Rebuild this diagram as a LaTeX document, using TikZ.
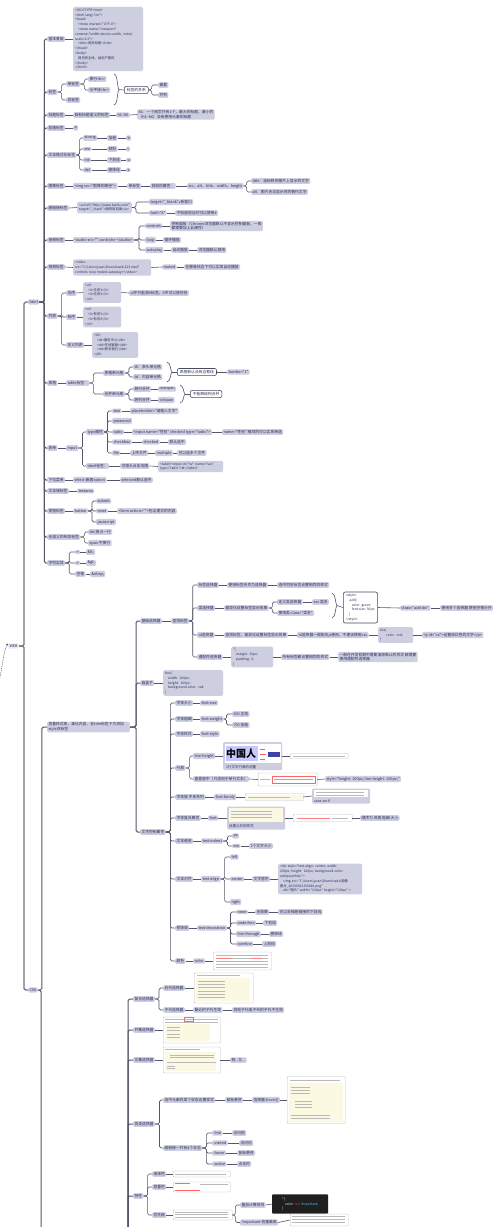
\documentclass[tikz,border=0pt]{standalone}
\usepackage{fontspec}
\newfontfamily\mapfont{Noto Sans CJK SC}
\usepackage{xcolor}
\usepackage{tikz}
\usetikzlibrary{arrows.meta}
\definecolor{tagfill}{HTML}{CDCEE0}
\definecolor{tagtext}{HTML}{2A2D5C}
\definecolor{lnc}{HTML}{55586A}
\definecolor{shotyel}{HTML}{FCF9E3}
\newcommand{\codeind}{\hspace*{3pt}}
\newcommand{\fakelines}[5]{%
  \foreach \k in {1,...,#4}{\draw[fk] (#1,{#3+(\k-1)*#5}) -- (#2,{#3+(\k-1)*#5});}}
\newcommand{\sumbrace}[3]{%
  \draw[ln,rounded corners=0pt] (#1,#2) .. controls (#1+4,#2+1) and (#1+3,{(#2+#3)/2-2}) .. (#1+5,{(#2+#3)/2})
    .. controls (#1+3,{(#2+#3)/2+2}) and (#1+4,#3-1) .. (#1,#3);}

\begin{document}
\begin{tikzpicture}[x=1pt,y=-1pt,>=Latex,
  t/.style={fill=tagfill,text=tagtext,rounded corners=1.2pt,inner xsep=1.3pt,inner ysep=1.1pt,
    anchor=west,font={\mapfont\fontsize{3.8}{4.4}\selectfont}},
  cb/.style={t,align=left,font={\mapfont\fontsize{3.3}{4.8}\selectfont},inner xsep=2pt,inner ysep=1.6pt,rounded corners=1.5pt},
  wb/.style={t,fill=white,draw=lnc!85!black,line width=0.6pt,rounded corners=2pt,inner xsep=2.5pt,inner ysep=1.8pt},
  ln/.style={draw=lnc,line width=0.6pt,rounded corners=1.6pt},
  trunk/.style={ln,line width=1pt},
  roottrunk/.style={ln,draw=gray!75!lnc,line width=1.3pt},
  shot/.style={draw=gray!50,line width=0.4pt,fill=white,rounded corners=0.8pt,anchor=west,inner sep=0pt},
  captxt/.style={anchor=west,inner sep=0pt,text=tagtext,font={\mapfont\fontsize{3.5}{4}\selectfont}},
  fk/.style={draw=gray!55,line width=0.45pt},
  rel/.style={draw=lnc,dashed,dash pattern=on 1.2pt off 1pt,line width=0.5pt,-{Latex[length=2.2pt,width=2pt]}}]
\fill[white] (0,0) rectangle (500,1227);
\useasboundingbox (0,0) rectangle (500,1227);

% root
\node[t,fill=tagfill!45] (web) at (8,646) {WEB};
\node[t] (html) at (28,302) {html};
\node[t] (css) at (28,990) {CSS};
\coordinate (relin) at (-2,684);
\draw[rel] (relin) .. controls (3,668) and (3,652) .. (web.north west);
\draw[roottrunk] (web.east) -- ++(5,0) |- (html.west);
\draw[roottrunk] (web.east) -- ++(5,0) |- (css.west);

% html
\node[t] (gujia) at (47,39) {基本骨架};
\node[cb,text width=66pt] (gujiacode) at (73,39) {<!DOCTYPE html>\\<html lang="en">\\<head>\\\codeind<meta charset="UTF-8">\\\codeind<meta name="viewport"\\content="width=device-width, initial-\\scale=1.0">\\\codeind<title>网页标题</title>\\</head>\\<body>\\\codeind 网页的主体，给用户看的\\</body>\\</html>};
\node[t] (biaoqian) at (47,92) {标签};
\node[t] (danbq) at (66,84) {单标签};
\node[t] (shuangbq) at (66,100) {双标签};
\node[t] (huanhang) at (88,79) {换行<br>};
\node[t] (spx) at (88,90) {水平线<hr>};
\sumbrace{114}{74}{105}
\coordinate (bqtip) at (119,89.5);
\node[wb] (guanxi) at (124,90) {标签的关系};
\node[t] (qiantao) at (158,85) {嵌套};
\node[t] (binglie) at (158,95) {并列};
\node[t] (biaoti) at (47,115) {标题标签};
\node[t] (btyy) at (73,115) {具有标题语义的标签};
\node[t] (h1h6) at (116,115) {h1\textasciitilde h6};
\node[t,align=left] (h1note) at (137,114.5) {h1：一个网页只有1个，最大的标题，最小的\\（h1\textasciitilde h6）没有使用元素的标题};
\node[t] (duanluo) at (47,128) {段落标签};
\node[t] (ptag) at (73,128) {p};
\node[t] (wbgs) at (47,155) {文本格式化标签};
\node[t] (strong) at (83,138) {strong};
\node[t] (jiacu) at (107,138) {加粗};
\node[t] (btag) at (126,138) {b};
\node[t] (emtag) at (83,149) {em};
\node[t] (qingxie) at (107,149) {倾斜};
\node[t] (itag) at (126,149) {i};
\node[t] (instag) at (83,160) {ins};
\node[t] (xiahx) at (107,160) {下划线};
\node[t] (utag) at (126,160) {u};
\node[t] (deltag) at (83,170) {del};
\node[t] (shancx) at (107,170) {删除线};
\node[t] (stag) at (126,170) {s};
\node[t] (tuxiang) at (47,186) {图像标签};
\node[t] (imgtag) at (73,186) {<img src="图像的路径">};
\node[t] (dbq) at (127,186) {单标签};
\node[t] (qtsx) at (150,186) {其他的属性：};
\node[t] (srcall) at (187,186) {src、alt、title、width、height};
\node[t] (titleat) at (251,181) {title：鼠标移到图片上显示的文字};
\node[t] (altat) at (251,192) {alt：图片无法显示时的替代文字};
\node[t] (chaolj) at (47,208) {超链接标签};
\node[cb] (alink) at (77,207.5) {<a href="http://www.baidu.com"\\target="\_blank">跳转到百度</a>};
\node[t] (target) at (149,202) {target="\_blank"};
\node[t] (xinck) at (179,202) {新窗口};
\node[t] (hrefj) at (149,213) {href="\#"};
\node[t] (bzdz) at (175,213) {不知道地址时可以使用\#};
\node[t] (yinpin) at (47,240) {音频标签};
\node[t] (audio) at (73,240) {<audio src="" controls> </audio>};
\node[t] (controls) at (145,226) {controls};
\node[t,align=left] (kzmb) at (170,226) {控制面板（Chrome浏览器默认不显示控制面板，一般\\都需要加上此属性）};
\node[t] (loop) at (145,240) {loop};
\node[t] (xhbf) at (163,240) {循环播放};
\node[t] (autoplay) at (145,250) {autoplay};
\node[t] (zdbf) at (171,250) {自动播放};
\node[t] (llqjy) at (197,250) {浏览器默认禁用};
\node[t] (shipin) at (47,267) {视频标签};
\node[cb,text width=74pt] (video) at (73,267.5) {<video\\src="C:\textbackslash Users\textbackslash yuan\textbackslash Downloads\textbackslash 123.mp4"\\controls loop muted autoplay></video>};
\node[t] (muted) at (162,267) {muted};
\node[t] (jyzd) at (184,267) {在静音状态下可以实现自动播放};
\node[t] (liebiao) at (47,316) {列表};
\node[t] (wuxu) at (66,293) {无序};
\node[t] (youxu) at (66,317) {有序};
\node[t] (dingyi) at (66,345) {定义列表};
\node[cb,text width=34pt] (ulcode) at (83,292.5) {<ul>\\\codeind<li>无序1</li>\\\codeind<li>无序2</li>\\</ul>};
\node[t] (ulnote) at (129,293) {ul中只能放li标签，li中可以放任何};
\node[cb,text width=34pt] (olcode) at (83,317) {<ol>\\\codeind<li>有序1</li>\\\codeind<li>有序2</li>\\</ol>};
\node[cb,text width=42pt] (dlcode) at (92,345) {<dl>\\\codeind<dt>服务中心</dt>\\\codeind<dd>在线客服</dd>\\\codeind<dd>联系我们</dd>\\</dl>};
\node[t] (biaoge) at (47,383) {表格};
\node[t] (tabletag) at (66,383) {table标签：};
\node[t] (dyg) at (103,373) {表格单元格};
\node[t] (thtag) at (133,367) {th：表头单元格};
\node[t] (tdtag) at (133,377) {td：内容单元格};
\node[t] (hebing) at (103,394) {合并单元格};
\node[t] (kuahang) at (133,389) {跨行合并};
\node[t] (rowspan) at (158,389) {rowspan};
\node[t] (kualie) at (133,400) {跨列合并};
\node[t] (colspan) at (158,400) {colspan};
\sumbrace{167}{362}{382}
\coordinate (bgtip) at (172,372);
\node[wb] (mrwbk) at (177,372) {表格默认没有边框线};
\node[t] (border) at (227,372) {border="1"};
\sumbrace{180}{385}{403}
\coordinate (hbtip) at (185,394);
\node[wb] (bnkjg) at (190,394) {不能跨结构合并};
\node[t] (biaodan) at (47,448) {表单};
\node[t] (inputtag) at (66,448) {input};
\node[t] (typesx) at (86,432) {type属性};
\node[t] (tytext) at (112,411) {text};
\node[t] (placeh) at (130,411) {placeholder="请输入文字"};
\node[t] (typwd) at (112,421) {password};
\node[t] (tyradio) at (112,432) {radio};
\node[t] (inradio) at (132,432) {<input name="性别" checked type="radio">};
\node[t] (danxuan) at (222,432) {name="性别" 相同的可以实现单选};
\node[t] (tycheck) at (112,442) {checkbox};
\node[t] (checked) at (142,442) {checked};
\node[t] (mrxz) at (168,442) {默认选中};
\node[t] (tyfile) at (112,453) {file};
\node[t] (scwj) at (130,453) {上传文件};
\node[t] (multiple) at (155,453) {multiple};
\node[t] (kxdg) at (177,453) {可以选多个文件};
\node[t] (labeltag) at (86,466) {label标签：};
\node[t] (zdfw) at (120,466) {可增大点击范围};
\node[cb,text width=61pt] (labelcode) at (158,466.5) {<label><input id="nv" name="sex"\\type="radio">女</label>};
\node[t] (xlcd) at (47,480) {下拉菜单};
\node[t] (selecttag) at (73,480) {select 嵌套option};
\node[t] (selected) at (120,480) {selected默认选中};
\node[t] (wbyu) at (47,491) {文本域标签};
\node[t] (textarea) at (77,491) {textarea};
\node[t] (anniu) at (47,511) {按钮标签};
\node[t] (buttontag) at (73,511) {button};
\node[t] (submit) at (96,501) {submit};
\node[t] (reset) at (96,511) {reset};
\node[t] (formtag) at (117,511) {<form action="">包含提交的内容};
\node[t] (jstag) at (96,522) {javascript};
\node[t] (buju) at (47,537) {无语义的布局标签};
\node[t] (divtag) at (88,532) {div 独占一行};
\node[t] (spantag) at (88,543) {span 不换行};
\node[t] (zfst) at (47,563) {字符实体};
\node[t] (ltsym) at (75,552) {<};
\node[t] (ltent) at (86,552) {\&lt;};
\node[t] (gtsym) at (75,563) {>};
\node[t] (gtent) at (86,563) {\&gt;};
\node[t] (kongge) at (75,574) {空格};
\node[t] (nbsp) at (90,574) {\&nbsp;};

\foreach \c in {gujia,biaoqian,biaoti,duanluo,wbgs,tuxiang,chaolj,yinpin,shipin,liebiao,biaoge,biaodan,xlcd,wbyu,anniu,buju,zfst}
  \draw[trunk] (html.east) -- ++(5,0) |- (\c.west);
\draw[ln] (gujia.east) -- (gujiacode.west);
\foreach \c in {danbq,shuangbq} \draw[ln] (biaoqian.east) -- ++(4,0) |- (\c.west);
\foreach \c in {huanhang,spx} \draw[ln] (danbq.east) -- ++(4,0) |- (\c.west);
\draw[ln] (bqtip) -- (guanxi.west);
\foreach \c in {qiantao,binglie} \draw[ln] (guanxi.east) -- ++(3,0) |- (\c.west);
\draw[ln] (biaoti.east) -- (btyy.west);
\draw[ln] (btyy.east) -- (h1h6.west);
\draw[ln] (h1h6.east) -- (h1note.west);
\draw[ln] (duanluo.east) -- (ptag.west);
\foreach \c in {strong,emtag,instag,deltag} \draw[ln] (wbgs.east) -- ++(3,0) |- (\c.west);
\draw[ln] (strong.east) -- (jiacu.west);
\draw[ln] (jiacu.east) -- (btag.west);
\draw[ln] (emtag.east) -- (qingxie.west);
\draw[ln] (qingxie.east) -- (itag.west);
\draw[ln] (instag.east) -- (xiahx.west);
\draw[ln] (xiahx.east) -- (utag.west);
\draw[ln] (deltag.east) -- (shancx.west);
\draw[ln] (shancx.east) -- (stag.west);
\draw[ln] (tuxiang.east) -- (imgtag.west);
\draw[ln] (imgtag.east) -- (dbq.west);
\draw[ln] (dbq.east) -- (qtsx.west);
\draw[ln] (qtsx.east) -- (srcall.west);
\foreach \c in {titleat,altat} \draw[ln] (srcall.east) -- ++(3,0) |- (\c.west);
\draw[ln] (chaolj.east) -- (alink.west);
\foreach \c in {target,hrefj} \draw[ln] (alink.east) -- ++(4,0) |- (\c.west);
\draw[ln] (target.east) -- (xinck.west);
\draw[ln] (hrefj.east) -- (bzdz.west);
\draw[ln] (yinpin.east) -- (audio.west);
\foreach \c in {controls,loop,autoplay} \draw[ln] (audio.east) -- ++(5,0) |- (\c.west);
\draw[ln] (controls.east) -- (kzmb.west);
\draw[ln] (loop.east) -- (xhbf.west);
\draw[ln] (autoplay.east) -- (zdbf.west);
\draw[ln] (zdbf.east) -- (llqjy.west);
\draw[ln] (shipin.east) -- (video.west);
\draw[ln] (video.east) -- (muted.west);
\draw[ln] (muted.east) -- (jyzd.west);
\foreach \c in {wuxu,youxu,dingyi} \draw[ln] (liebiao.east) -- ++(4,0) |- (\c.west);
\draw[ln] (wuxu.east) -- (ulcode.west);
\draw[ln] (ulcode.east) -- (ulnote.west);
\draw[ln] (youxu.east) -- (olcode.west);
\draw[ln] (dingyi.east) -- (dlcode.west);
\draw[ln] (biaoge.east) -- (tabletag.west);
\foreach \c in {dyg,hebing} \draw[ln] (tabletag.east) -- ++(4,0) |- (\c.west);
\foreach \c in {thtag,tdtag} \draw[ln] (dyg.east) -- ++(4,0) |- (\c.west);
\foreach \c in {kuahang,kualie} \draw[ln] (hebing.east) -- ++(4,0) |- (\c.west);
\draw[ln] (kuahang.east) -- (rowspan.west);
\draw[ln] (kualie.east) -- (colspan.west);
\draw[ln] (bgtip) -- (mrwbk.west);
\draw[ln] (mrwbk.east) -- (border.west);
\draw[ln] (hbtip) -- (bnkjg.west);
\draw[ln] (biaodan.east) -- (inputtag.west);
\foreach \c in {typesx,labeltag} \draw[ln] (inputtag.east) -- ++(4,0) |- (\c.west);
\foreach \c in {tytext,typwd,tyradio,tycheck,tyfile} \draw[ln] (typesx.east) -- ++(3,0) |- (\c.west);
\draw[ln] (tytext.east) -- (placeh.west);
\draw[ln] (tyradio.east) -- (inradio.west);
\draw[ln] (inradio.east) -- (danxuan.west);
\draw[ln] (tycheck.east) -- (checked.west);
\draw[ln] (checked.east) -- (mrxz.west);
\draw[ln] (tyfile.east) -- (scwj.west);
\draw[ln] (scwj.east) -- (multiple.west);
\draw[ln] (multiple.east) -- (kxdg.west);
\draw[ln] (labeltag.east) -- (zdfw.west);
\draw[ln] (zdfw.east) -- (labelcode.west);
\draw[ln] (xlcd.east) -- (selecttag.west);
\draw[ln] (selecttag.east) -- (selected.west);
\draw[ln] (wbyu.east) -- (textarea.west);
\draw[ln] (anniu.east) -- (buttontag.west);
\foreach \c in {submit,reset,jstag} \draw[ln] (buttontag.east) -- ++(4,0) |- (\c.west);
\draw[ln] (reset.east) -- (formtag.west);
\foreach \c in {divtag,spantag} \draw[ln] (buju.east) -- ++(4,0) |- (\c.west);
\foreach \c in {ltsym,gtsym,kongge} \draw[ln] (zfst.east) -- ++(4,0) |- (\c.west);
\draw[ln] (ltsym.east) -- (ltent.west);
\draw[ln] (gtsym.east) -- (gtent.west);
\draw[ln] (kongge.east) -- (nbsp.west);

% css
\node[t,align=left,text width=80pt] (cengdie) at (47,727) {层叠样式表，美化内容，在title标签下方添加\\style双标签};
\coordinate (cssdown) at (41,1232);
\draw[trunk] (css.east) -- ++(4,0) |- (cengdie.west);
\draw[trunk] (css.east) -| (cssdown);
\node[t] (jcxzq) at (140,621) {基础选择器};
\node[t] (hhz) at (140,683) {画盒子};
\node[t] (wzkz) at (140,832) {文字控制属性};
\foreach \c in {jcxzq,hhz,wzkz} \draw[trunk] (cengdie.east) -- ++(6,0) |- (\c.west);

\node[t] (czbq) at (171,621) {查找标签};
\node[t] (bqxzq) at (197,585) {标签选择器};
\node[t] (bqmzw) at (227,585) {使用标签名作为选择器};
\node[t] (xztm) at (277,585) {选中同名标签设置相同的样式};
\node[t] (lxzq) at (197,608) {类选择器};
\node[t] (cyh) at (224,608) {差异化设置标签显示效果};
\node[t] (dylxzq) at (277,602) {定义类选择器};
\node[t] (xxxlm) at (312,602) {xxx 类名};
\node[t] (shyl) at (277,613) {使用类 class="类名"};
\sumbrace{332}{593}{618}
\coordinate (lxtip) at (337,605.5);
\node[wb,align=left,font={\mapfont\fontsize{3.3}{4.8}\selectfont}] (stylecode) at (343,607.5) {<style>\\\codeind .add\{\\\codeind\codeind color: green;\\\codeind\codeind font-size: 30px;\\\codeind\}\\</style>};
\node[t] (classadd) at (400,608) {class="add div"};
\node[t] (dgxzq) at (440,608) {使用多个选择器 使用空格分开};
\node[t] (idxzq) at (197,635) {id选择器};
\node[t] (idcz) at (224,635) {查找标签，差异化设置标签显示效果};
\node[t] (idjs) at (297,635) {id选择器一般配合js使用，不建议使用css};
\node[cb,text width=31pt] (idcode) at (378,635) {\#cs\{\\\codeind\codeind color: red;\\\}};
\node[t] (pid) at (422,635) {<p id="cs">设置成红色的文字</p>};
\node[t] (tpf) at (197,657) {通配符选择器};
\node[cb,text width=38pt] (tpfcode) at (231,657) {*\{\\\codeind margin: 20px;\\\codeind padding: 0;\\\}};
\node[t] (sybq) at (281,657) {所有标签都设置相同的样式};
\node[t,align=left] (qcmr) at (338,657) {一般在开发初期中需要清除默认的样式 都需要\\使用通配符选择器};
\node[cb,text width=56pt] (boxcode) at (163,683) {box\{\\\codeind width: 100px;\\\codeind height: 100px;\\\codeind background-color: red;\\\}};

\draw[ln] (jcxzq.east) -- (czbq.west);
\foreach \c in {bqxzq,lxzq,idxzq,tpf} \draw[ln] (czbq.east) -- ++(3.5,0) |- (\c.west);
\draw[ln] (bqxzq.east) -- (bqmzw.west);
\draw[ln] (bqmzw.east) -- (xztm.west);
\draw[ln] (lxzq.east) -- (cyh.west);
\foreach \c in {dylxzq,shyl} \draw[ln] (cyh.east) -- ++(3.5,0) |- (\c.west);
\draw[ln] (dylxzq.east) -- (xxxlm.west);
\draw[ln] (lxtip) -- (stylecode.west);
\draw[ln] (stylecode.east) -- (classadd.west);
\draw[ln] (classadd.east) -- (dgxzq.west);
\draw[ln] (idxzq.east) -- (idcz.west);
\draw[ln] (idcz.east) -- (idjs.west);
\draw[ln] (idjs.east) -- (idcode.west);
\draw[ln] (idcode.east) -- (pid.west);
\draw[ln] (tpf.east) -- (tpfcode.west);
\draw[ln] (tpfcode.east) -- (sybq.west);
\draw[ln] (sybq.east) -- (qcmr.west);
\draw[ln] (hhz.east) -- (boxcode.west);

\node[t] (ztdx) at (175,703) {字体大小};
\node[t] (fontsize) at (200,703) {font-size};
\node[t] (ztcx) at (175,719) {字体粗细};
\node[t] (fontweight) at (200,719) {font-weight};
\node[t] (zc400) at (232,714) {400 正常};
\node[t] (jc700) at (232,725) {700 加粗};
\node[t] (ztys) at (175,734) {字体样式};
\node[t] (fontstyle) at (200,734) {font-style};
\node[t] (hanggao) at (175,768) {行高};
\node[t] (lineheight) at (193,756) {line-height};
\node[t,minimum width=59pt,minimum height=28pt,inner sep=0pt] (hgimg) at (223,756) {};
\fill[white] (225,744) rectangle (281,763);
\fill[blue!22] (226,746) rectangle (258,761);
\node[anchor=west,inner sep=0pt,font={\mapfont\bfseries\fontsize{10}{10}\selectfont}] (zgr) at (226,754) {中国人};
\draw[red!65,line width=0.4pt] (260,749) -- (265,749) (260,754) -- (266,754) (260,759) -- (265,759);
\fill[blue!55!black!75] (268,751.5) rectangle (280,756.5);
\node[captxt] (hgcap) at (226,767) {1行文字行高的测量};
\node[shot,minimum width=58pt,minimum height=4.5pt] (hgtip) at (290,756) {};
\fakelines{293}{345}{756}{1}{3}
\node[t] (czjz) at (193,779) {垂直居中（只适用于单行文本）};
\node[shot,minimum width=59pt,minimum height=13pt] (czimg) at (258,779.5) {};
\fakelines{260}{270}{779.5}{1}{3}
\draw[red!60,line width=0.4pt] (272,776) rectangle (315,783);
\draw[red!45,line width=0.4pt] (274,779.5) -- (313,779.5);
\node[t] (stylehl) at (325,779) {style="height: 100px; line-height: 100px;"};
\node[t] (ztz) at (175,797) {字体族 字体系列};
\node[t] (fontfamily) at (214,797) {font-family};
\node[shot,minimum width=58pt,minimum height=7pt] (ffimg) at (245,797) {};
\fill[shotyel] (246,794.5) rectangle (302,799.5);
\fakelines{248}{290}{797}{1}{3}
\node[t,minimum width=58pt,minimum height=15pt,inner sep=0pt] (ssimg) at (312,796) {};
\fill[white] (314,790) rectangle (368,797);
\fakelines{316}{364}{792.5}{2}{2.5}
\node[captxt] (sscap) at (314,801) {sans-serif};
\node[t] (ztfh) at (175,818) {字体复合属性};
\node[t] (fonttag) at (208,818) {font};
\node[t,minimum width=58pt,minimum height=23pt,inner sep=0pt] (fontimg) at (227,818) {};
\fill[shotyel] (229,808) rectangle (283,822);
\fakelines{231}{272}{811}{3}{3}
\node[captxt] (fontcap) at (229,826) {设置公共的样式};
\node[shot,minimum width=59pt,minimum height=7pt] (fontord) at (293,818) {};
\draw[red!50,line width=0.45pt] (297,818) -- (330,818);
\fakelines{332}{348}{818}{1}{3}
\node[t] (shunxu) at (360,818) {顺序为 风格 粗细 大小};
\node[t] (wbsj) at (175,841) {文本缩进};
\node[t] (textindent) at (201,841) {text-indent};
\node[t] (pxunit) at (232,836) {px};
\node[t] (emunit) at (232,846) {em};
\node[t] (yzdx) at (249,846) {1个文字大小};
\node[t] (wbdq) at (175,879) {文本对齐};
\node[t] (textalign) at (201,879) {text-align};
\node[t] (leftv) at (230,857) {left};
\node[t] (centerv) at (230,879) {center};
\node[t] (wzjz) at (252,879) {文字居中};
\node[cb,text width=80pt] (centercode) at (278,879) {<div style="text-align: center; width:\\200px; height: 100px; background-color:\\antiquewhite;">\\\codeind<img src="C:\textbackslash Users\textbackslash yuan\textbackslash Downloads\textbackslash 图像\\图片\_20230523150648.png"\\\codeind alt="图片" width="100px" height="100px" >};
\node[t] (rightv) at (230,902) {right};
\node[t] (xsx) at (175,928) {修饰线};
\node[t] (textdec) at (197,928) {text-decoration};
\node[t] (nonev) at (236,912) {none};
\node[t] (wxg) at (255,912) {无效果};
\node[t] (qdxhx) at (278,912) {可以去掉超链接的下划线};
\node[t] (underline) at (236,923) {underline};
\node[t] (xhx) at (263,923) {下划线};
\node[t] (linethrough) at (236,934) {line-through};
\node[t] (scx) at (269,934) {删除线};
\node[t] (overline) at (236,944) {overline};
\node[t] (shx) at (262,944) {上划线};
\node[t] (yanse) at (175,961) {颜色};
\node[t] (colortag) at (193,961) {color};
\node[shot,minimum width=58pt,minimum height=18pt] (colorimg) at (213,961) {};
\fakelines{216}{268}{955}{5}{3}
\draw[red!50,line width=0.45pt] (216,958) -- (232,958) (252,958) -- (262,958);

\foreach \c in {ztdx,ztcx,ztys,hanggao,ztz,ztfh,wbsj,wbdq,xsx,yanse} \draw[ln] (wzkz.east) -- ++(4.5,0) |- (\c.west);
\draw[ln] (ztdx.east) -- (fontsize.west);
\draw[ln] (ztcx.east) -- (fontweight.west);
\foreach \c in {zc400,jc700} \draw[ln] (fontweight.east) -- ++(3,0) |- (\c.west);
\draw[ln] (ztys.east) -- (fontstyle.west);
\foreach \c in {lineheight,czjz} \draw[ln] (hanggao.east) -- ++(4,0) |- (\c.west);
\draw[ln] (lineheight.east) -- (hgimg.west);
\draw[ln] (hgimg.east) -- (hgtip.west);
\draw[ln] (czjz.east) -- (czimg.west);
\draw[ln] (czimg.east) -- (stylehl.west);
\draw[ln] (ztz.east) -- (fontfamily.west);
\draw[ln] (fontfamily.east) -- (ffimg.west);
\draw[ln] (ffimg.east) -- (ssimg.west);
\draw[ln] (ztfh.east) -- (fonttag.west);
\draw[ln] (fonttag.east) -- (fontimg.west);
\draw[ln] (fontimg.east) -- (fontord.west);
\draw[ln] (fontord.east) -- (shunxu.west);
\draw[ln] (wbsj.east) -- (textindent.west);
\foreach \c in {pxunit,emunit} \draw[ln] (textindent.east) -- ++(4,0) |- (\c.west);
\draw[ln] (emunit.east) -- (yzdx.west);
\draw[ln] (wbdq.east) -- (textalign.west);
\foreach \c in {leftv,centerv,rightv} \draw[ln] (textalign.east) -- ++(4,0) |- (\c.west);
\draw[ln] (centerv.east) -- (wzjz.west);
\draw[ln] (wzjz.east) -- (centercode.west);
\draw[ln] (xsx.east) -- (textdec.west);
\foreach \c in {nonev,underline,linethrough,overline} \draw[ln] (textdec.east) -- ++(3.5,0) |- (\c.west);
\draw[ln] (nonev.east) -- (wxg.west);
\draw[ln] (wxg.east) -- (qdxhx.west);
\draw[ln] (underline.east) -- (xhx.west);
\draw[ln] (linethrough.east) -- (scx.west);
\draw[ln] (overline.east) -- (shx.west);
\draw[ln] (yanse.east) -- (colortag.west);
\draw[ln] (colortag.east) -- (colorimg.west);

% selectors
\coordinate (xzqdown) at (128,1232);
\node[t] (fhxzq) at (133,999) {复合选择器};
\node[t] (bjxzq) at (133,1030) {并集选择器};
\node[t] (jjxzq) at (133,1060) {交集选择器};
\node[t] (wlxzq) at (133,1124) {伪类选择器};
\node[t] (texing) at (133,1196) {特性};
\foreach \c in {fhxzq,bjxzq,jjxzq,wlxzq,texing} \draw[trunk] (xzqdown) |- (\c.west);

\node[t] (hdxzq) at (163,988) {后代选择器};
\node[shot,minimum width=59pt,minimum height=30pt] (hdimg) at (194,988) {};
\fakelines{197}{240}{975.5}{1}{3}
\fill[shotyel] (196,978) rectangle (250,1001);
\fakelines{198}{225}{981}{6}{3.3}
\node[t] (zdxzq) at (163,1010) {子代选择器};
\node[t] (zjzd) at (193,1010) {最近的子代生效};
\node[t] (qtzd) at (232,1010) {其他子代或子代的子代不生效};
\node[shot,minimum width=57pt,minimum height=26pt] (bjimg) at (163,1030) {};
\fakelines{165}{218}{1019.5}{2}{2.5}
\draw[red!60,line width=0.4pt] (184,1017.5) rectangle (193,1021.5);
\fill[shotyel] (165,1024) rectangle (210,1041);
\fakelines{167}{180}{1027}{4}{3.5}
\node[shot,minimum width=57pt,minimum height=26pt] (jjimg) at (163,1060) {};
\fakelines{165}{200}{1049.5}{1}{3}
\fill[shotyel] (165,1052) rectangle (216,1071);
\fakelines{170}{214}{1055}{2}{2.5}
\fakelines{167}{216}{1062}{1}{3}
\fakelines{167}{175}{1066}{2}{2.5}
\node[t] (jiyou) at (230,1060) {既...又...};
\node[t] (zhuangtai) at (163,1100) {选中元素的某个状态设置样式};
\node[t] (sbxt) at (225,1100) {鼠标悬停};
\node[t] (hoversel) at (252,1100) {选择器:hover\{\}};
\node[shot,minimum width=58pt,minimum height=47pt] (hoverimg) at (287,1100) {};
\fakelines{290}{340}{1080}{1}{3}
\fill[shotyel] (289,1083) rectangle (343,1122);
\fakelines{291}{310}{1087}{3}{3}
\fakelines{295}{312}{1101}{3}{3}
\fakelines{291}{330}{1115}{2}{3}
\node[t] (sige) at (163,1148) {超链接一共有4个状态};
\node[t] (linkps) at (212,1133) {:link};
\node[t] (fwq) at (232,1133) {访问前};
\node[t] (visitedps) at (212,1143) {:visited};
\node[t] (fwh) at (239,1143) {访问后};
\node[t] (hoverps) at (212,1153) {:hover};
\node[t] (sbxt2) at (237,1153) {鼠标悬停};
\node[t] (activeps) at (212,1164) {:active};
\node[t] (djs) at (237,1164) {点击时};
\node[t] (jcx) at (152,1174) {继承性};
\node[shot,minimum width=57pt,minimum height=6pt] (jcximg) at (173,1174) {};
\fakelines{175}{226}{1174}{1}{3}
\node[t] (cdx) at (152,1187) {层叠性};
\node[shot,minimum width=57pt,minimum height=10pt] (cdximg) at (173,1187) {};
\draw[red!60,line width=0.4pt] (175,1183.5) -- (190,1183.5) (175,1190) -- (200,1190);
\fakelines{200}{228}{1184}{1}{3}
\node[t] (yxj) at (152,1215) {优先级};
\node[shot,minimum width=59pt,minimum height=10pt] (yxjimg) at (173,1215) {};
\fakelines{175}{228}{1212}{3}{2.5}
\node[t] (djgz) at (240,1205) {叠加计算规则};
\node[anchor=west,fill=black!88,rounded corners=0.8pt,minimum width=56pt,minimum height=17pt,align=left,text=white,
  font={\mapfont\fontsize{3.3}{4.6}\selectfont},inner xsep=2pt] (impcode) at (272,1204) {* \{\\\codeind color: \textcolor{red!80}{red} \textcolor{cyan!70}{!important};\\\}};
\node[t] (important) at (240,1222.5) {!important 权重最高};
\node[shot,minimum width=58pt,minimum height=12pt] (impimg) at (290,1220) {};
\fakelines{292}{345}{1216.5}{3}{3}

\foreach \c in {hdxzq,zdxzq} \draw[ln] (fhxzq.east) -- ++(4,0) |- (\c.west);
\draw[ln] (hdxzq.east) -- (hdimg.west);
\draw[ln] (zdxzq.east) -- (zjzd.west);
\draw[ln] (zjzd.east) -- (qtzd.west);
\draw[ln] (bjxzq.east) -- (bjimg.west);
\draw[ln] (jjxzq.east) -- (jjimg.west);
\draw[ln] (jjimg.east) -- (jiyou.west);
\foreach \c in {zhuangtai,sige} \draw[ln] (wlxzq.east) -- ++(4.5,0) |- (\c.west);
\draw[ln] (zhuangtai.east) -- (sbxt.west);
\draw[ln] (sbxt.east) -- (hoversel.west);
\draw[ln] (hoversel.east) -- (hoverimg.west);
\foreach \c in {linkps,visitedps,hoverps,activeps} \draw[ln] (sige.east) -- ++(4,0) |- (\c.west);
\draw[ln] (linkps.east) -- (fwq.west);
\draw[ln] (visitedps.east) -- (fwh.west);
\draw[ln] (hoverps.east) -- (sbxt2.west);
\draw[ln] (activeps.east) -- (djs.west);
\foreach \c in {jcx,cdx,yxj} \draw[ln] (texing.east) -- ++(4,0) |- (\c.west);
\draw[ln] (jcx.east) -- (jcximg.west);
\draw[ln] (cdx.east) -- (cdximg.west);
\draw[ln] (yxj.east) -- (yxjimg.west);
\foreach \c in {djgz,important} \draw[ln] (yxjimg.east) -- ++(3,0) |- (\c.west);
\draw[ln] (djgz.east) -- (impcode.west);
\draw[ln] (important.east) -- (impimg.west);
\end{tikzpicture}
\end{document}
